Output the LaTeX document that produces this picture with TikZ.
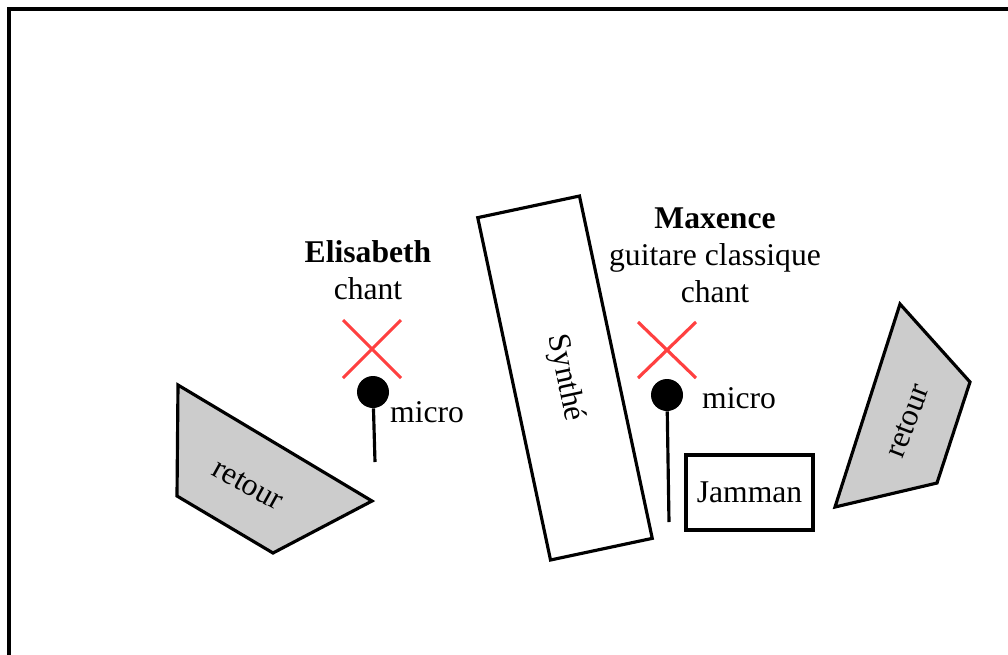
\documentclass[tikz,border=0pt]{standalone}
\usepackage{fontspec}
\setmainfont{Liberation Serif}
\definecolor{gris}{HTML}{CCCCCC}
\definecolor{rouge}{HTML}{FF4040}
\tikzset{
  trait/.style={line width=1.8pt, line join=miter},
  meuble/.style={draw, trait, fill=white, inner sep=0pt},
  micro/.style={circle, fill=black, inner sep=0pt, minimum size=6.4mm},
  nom/.style={align=center, font=\fontsize{18}{21}\selectfont},
}
\begin{document}
\begin{tikzpicture}[x=0.2mm, y=-0.2mm, font=\fontsize{18}{21}\selectfont, line join=round, line cap=round]
\useasboundingbox (0,0) rectangle (1008,654);
% Bord de la scène
\draw[trait, line cap=butt] (9,670) -- (9,9) -- (1020,9);
% Retours
\draw[trait, fill=gris] (178,385) -- (177,496) -- (273,553) -- (372,501) -- cycle;
\node[rotate=-29] (retourG) at (248,485) {retour};
\draw[trait, fill=gris] (900,304) -- (970,382) -- (937,483) -- (835,507) -- cycle;
\node[rotate=69] (retourD) at (908,421) {retour};
% Synthé et Jamman
\node[meuble, rotate=-78, minimum width=7cm, minimum height=2.08cm] (synthe) at (565,378) {Synthé};
\node[meuble, minimum width=25.4mm, minimum height=15mm] (jamman) at (749.5,492.5) {Jamman};
% Musiciens
\node[nom] (elisabeth) at (368,270) {\textbf{Elisabeth}\\chant};
\node[nom] (maxence) at (715,255) {\textbf{Maxence}\\guitare classique\\chant};
% Croix des positions
\draw[trait, rouge, line cap=butt] (343,320) -- (401,378) (343,378) -- (401,320);
\draw[trait, rouge, line cap=butt] (638,322) -- (696,378) (638,378) -- (696,322);
% Micros
\node[micro] (microG) at (373,392) {};
\coordinate (piedG) at (375,462);
\draw[trait, line cap=butt] (microG) -- (piedG);
\node[anchor=west] (txtG) at (384,412) {micro};
\node[micro] (microD) at (667,395) {};
\coordinate (piedD) at (669,522);
\draw[trait, line cap=butt] (microD) -- (piedD);
\node[anchor=west] (txtD) at (696,398) {micro};
\end{tikzpicture}
\end{document}
